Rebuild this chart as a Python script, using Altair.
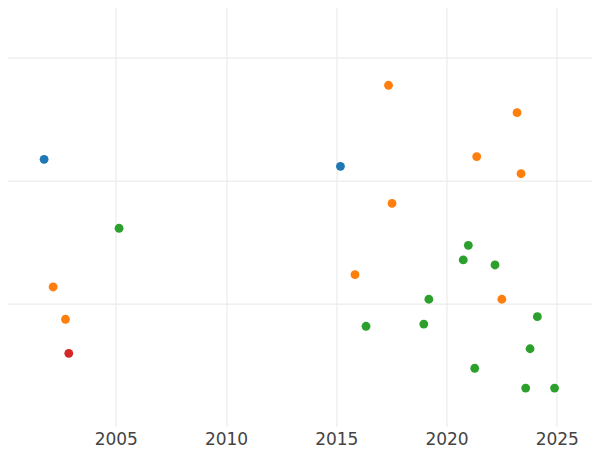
import altair as alt
import pandas as pd

groups = ["A", "A",
          "B", "B", "B", "B", "B", "B", "B", "B", "B",
          "C",
          "D", "D", "D", "D", "D", "D", "D", "D", "D", "D", "D", "D"]
years = [2001.75, 2015.19,
         2017.37, 2023.20, 2021.37, 2023.38, 2017.53, 2015.85, 2022.51, 2002.16, 2002.72,
         2002.87,
         2005.15, 2020.99, 2020.76, 2022.20, 2019.20, 2016.35, 2018.97, 2024.12, 2023.79, 2021.28, 2023.59, 2024.90]
values = [2.175, 2.118,
          2.778, 2.555, 2.197, 2.058, 1.817, 1.236, 1.036, 1.136, 0.873,
          0.596,
          1.614, 1.475, 1.356, 1.315, 1.036, 0.816, 0.834, 0.894, 0.633, 0.474, 0.313, 0.313]

group_names = ["A", "B", "C", "D"]
group_colors = ["#1f77b4", "#ff7f0e", "#d62728", "#2ca02c"]
tick_years = [2000, 2005, 2010, 2015, 2020, 2025]

df = pd.DataFrame({"year": years, "value": values, "group": groups})

chart = alt.Chart(df).mark_circle(size=78, opacity=1).encode(
    x=alt.X("year:Q",
            scale=alt.Scale(domain=[1999, 2028], nice=False, zero=False),
            axis=alt.Axis(values=tick_years, format="d",
                          labelExpr="datum.value == 2000 ? '' : datum.label",
                          title=None, domain=False, ticks=False,
                          labelFontSize=17, labelColor="#444444", labelFont="DejaVu Sans",
                          labelPadding=5, gridColor="#ebebeb", gridWidth=1.2)),
    y=alt.Y("value:Q",
            scale=alt.Scale(domain=[0, 3.5], nice=False, zero=False),
            axis=alt.Axis(values=[1, 2, 3], labels=False, title=None,
                          domain=False, ticks=False, gridColor="#ebebeb", gridWidth=1.2)),
    color=alt.Color("group:N",
                    scale=alt.Scale(domain=group_names, range=group_colors),
                    legend=None),
).properties(
    width=639.45,
    height=429.9,
    autosize=alt.AutoSizeParams(type="none"),
    padding={"left": -24.55, "top": -11.4, "right": -30.9, "bottom": 23.5},
).configure_view(stroke=None)

chart.save("out.html", embed_options={"renderer": "svg", "actions": False})
